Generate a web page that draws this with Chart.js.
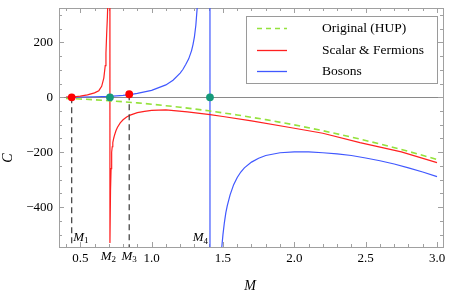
<!DOCTYPE html>
<html><head><meta charset="utf-8">
<script src="https://cdn.jsdelivr.net/npm/chart.js@4/dist/chart.umd.min.js"></script>
<style>html,body{margin:0;padding:0;background:#fff;overflow:hidden}</style>
</head><body>
<canvas id="c" width="450" height="293"></canvas>
<script>
// ---------- data ----------
const seriesNames = ['Original (HUP)', 'Scalar & Fermions', 'Bosons'];

const greenM = [0.40,0.50,0.60,0.70,0.80,0.90,1.00,1.20,1.40,1.60,1.80,2.00,2.20,2.40,2.60,2.80,3.00];
const greenC = [-4.0,-6.3,-9.0,-12.3,-16.1,-20.4,-25.1,-36.2,-49.3,-64.3,-81.4,-100.5,-121.6,-144.8,-169.9,-197.0,-226.2];

const redM = [0.40,0.44,0.50,0.55,0.60,0.63,0.65,0.665,0.675,0.68,0.685,0.69,0.695,0.700,0.707,0.708,0.712,0.716,0.720,0.724,0.728,0.734,0.740,0.750,0.760,0.780,0.800,0.825,0.850,0.900,0.950,1.000,1.100,1.250,1.410,1.500,1.700,1.970,2.200,2.460,2.750,3.000];
const redC = [1,1,4,9,16,24,40,70,115,160,230,290,380,600,1500,-530,-340,-260,-200,-180,-165,-150,-138,-122,-110,-93,-82,-72,-65,-56,-51,-48,-46,-53,-63,-70,-86,-110,-131,-165,-199,-238];

const blueM = [0.40,0.50,0.60,0.707,0.80,0.85,0.90,1.00,1.10,1.15,1.20,1.22,1.24,1.26,1.28,1.29,1.30,1.31,1.32,1.34,1.38,1.4085,1.4095,1.45,1.49,1.50,1.51,1.52,1.53,1.55,1.575,1.60,1.625,1.65,1.70,1.75,1.80,1.90,2.00,2.10,2.20,2.30,2.40,2.50,2.60,2.70,2.80,2.90,3.00];
const blueC = [0,1,2,3,7,10,14,25,45,62,88,102,120,140,170,192,220,262,330,450,800,3000,-3000,-1200,-555,-500,-456,-421,-395,-355,-318,-292,-272,-257,-236,-222,-212,-202,-199,-199,-202,-206,-212,-221,-231,-243,-257,-272,-289];

const redDotM = [0.44, 0.843];
const redDotC = [0, 11];
const tealDotM = [0.708, 1.409];
const tealDotC = [0, 0];

const markerNames = ['1', '2', '3', '4'];         // subscripts of M labels
const markerM = [0.44, 0.708, 0.843, 1.409];

const xTickValues = [0.5, 1.0, 1.5, 2.0, 2.5, 3.0];
const xTickLabels = ['0.5', '1.0', '1.5', '2.0', '2.5', '3.0'];
const yTickValues = [-400, -200, 0, 200];
const yTickLabels = ['\u2212400', '\u2212200', '0', '200'];

const X_MIN = 0.351, X_MAX = 3.042, Y_MIN = -545, Y_MAX = 325;

// ---------- helpers ----------
const SERIF = '"Liberation Serif","DejaVu Serif",serif';
const pts = (xs, ys) => xs.map((x, i) => ({x: x, y: ys[i]}));
const GREEN = '#94e23c', RED = '#ff2020', BLUE = '#4058ff', TEAL = '#159a7a';

function drawM(ctx, sub, x, y, align) {
  ctx.font = 'italic 13px ' + SERIF;
  const wM = ctx.measureText('M').width;
  ctx.font = '9px ' + SERIF;
  const wS = ctx.measureText(sub).width;
  let left = align === 'left' ? x : (align === 'right' ? x - wM - wS : x - (wM + wS) / 2);
  ctx.fillStyle = '#000';
  ctx.textAlign = 'left';
  ctx.textBaseline = 'alphabetic';
  ctx.font = 'italic 13px ' + SERIF;
  ctx.fillText('M', left, y);
  ctx.font = '9px ' + SERIF;
  ctx.fillText(sub, left + wM, y + 2.5);
}

const framePlugin = {
  id: 'frame',
  beforeDatasetsDraw(chart) {
    const {ctx, chartArea: a, scales: {x, y}} = chart;
    ctx.save();
    ctx.strokeStyle = '#8a8a8a';
    ctx.lineWidth = 1;
    const y0 = Math.round(y.getPixelForValue(0)) + 0.5;
    ctx.beginPath(); ctx.moveTo(a.left, y0); ctx.lineTo(a.right, y0); ctx.stroke();
    ctx.strokeStyle = '#a0a0a0';
    ctx.strokeRect(Math.round(a.left) + 0.5, Math.round(a.top) + 0.5, Math.round(a.right - a.left), Math.round(a.bottom - a.top));
    ctx.beginPath();
    for (let k = 4; k <= 30; k++) {
      const v = k / 10;
      const px = Math.round(x.getPixelForValue(v)) + 0.5;
      const len = (k % 5 === 0) ? 5 : 3;
      ctx.moveTo(px, a.bottom); ctx.lineTo(px, a.bottom - len);
      ctx.moveTo(px, a.top); ctx.lineTo(px, a.top + len);
    }
    for (let v = -500; v <= 300; v += 50) {
      const py = Math.round(y.getPixelForValue(v)) + 0.5;
      const len = (v % 200 === 0) ? 5 : 3;
      ctx.moveTo(a.left, py); ctx.lineTo(a.left + len, py);
      ctx.moveTo(a.right, py); ctx.lineTo(a.right - len, py);
    }
    ctx.stroke();
    ctx.restore();
  },
  afterDraw(chart) {
    const {ctx, scales: {x}} = chart;
    ctx.save();
    drawM(ctx, markerNames[0], x.getPixelForValue(markerM[0]) + 1.5, 240.5, 'left');
    drawM(ctx, markerNames[1], x.getPixelForValue(markerM[1]) - 1.5, 259.5, 'center');
    drawM(ctx, markerNames[2], x.getPixelForValue(markerM[2]), 259.5, 'center');
    drawM(ctx, markerNames[3], x.getPixelForValue(markerM[3]) - 2, 241, 'right');
    ctx.fillStyle = '#000';
    ctx.font = 'italic 14px ' + SERIF;
    ctx.textAlign = 'center';
    ctx.textBaseline = 'middle';
    ctx.fillText('M', 250, 286);
    ctx.save();
    ctx.translate(8, 158);
    ctx.rotate(-Math.PI / 2);
    ctx.fillText('C', 0, 0);
    ctx.restore();
    const bx = 246.5, by = 16.5, bw = 191, bh = 67;
    ctx.fillStyle = '#fff';
    ctx.fillRect(bx, by, bw, bh);
    ctx.strokeStyle = '#9a9a9a';
    ctx.lineWidth = 1;
    ctx.strokeRect(bx, by, bw, bh);
    const cols = [GREEN, RED, BLUE];
    const rows = [28, 50, 71];
    for (let i = 0; i < 3; i++) {
      ctx.strokeStyle = cols[i];
      ctx.lineWidth = i === 0 ? 1.6 : 1.3;
      ctx.setLineDash(i === 0 ? [5, 4] : []);
      ctx.beginPath(); ctx.moveTo(257, rows[i] + 0.5); ctx.lineTo(287, rows[i] + 0.5); ctx.stroke();
      ctx.setLineDash([]);
      ctx.fillStyle = '#000';
      ctx.font = '13.5px ' + SERIF;
      ctx.textAlign = 'left';
      ctx.textBaseline = 'middle';
      ctx.fillText(seriesNames[i], 322, rows[i] + 0.5);
    }
    ctx.restore();
  }
};

const lineDs = (data, color, width, dash, order) => ({
  data: data, showLine: true, borderColor: color, backgroundColor: color,
  borderWidth: width, borderDash: dash, pointRadius: 0, pointHoverRadius: 0,
  order: order, clip: 0, tension: 0
});

new Chart(document.getElementById('c').getContext('2d'), {
  type: 'scatter',
  data: {
    datasets: [
      {data: pts(redDotM, redDotC), backgroundColor: '#ff0000', borderWidth: 0, pointRadius: 3.9, order: 0},
      {data: pts(tealDotM, tealDotC), backgroundColor: TEAL, borderWidth: 0, pointRadius: 3.9, order: 0},
      lineDs(pts(blueM, blueC), BLUE, 1.2, [], 3),
      lineDs(pts(redM, redC), RED, 1.2, [], 2),
      lineDs(pts(greenM, greenC), GREEN, 1.6, [6, 4], 1),
      lineDs(pts([redDotM[0], redDotM[0]], [redDotC[0], Y_MIN]), '#3a3a3a', 1.2, [6, 4], 1),
      lineDs(pts([redDotM[1], redDotM[1]], [redDotC[1], Y_MIN]), '#3a3a3a', 1.2, [6, 4], 1)
    ]
  },
  options: {
    responsive: false, devicePixelRatio: 1, animation: false, events: [],
    layout: {padding: {top: 8, right: 7, left: 0, bottom: 0}},
    plugins: {legend: {display: false}, tooltip: {enabled: false}},
    scales: {
      x: {
        type: 'linear', min: X_MIN, max: X_MAX, position: 'bottom',
        grid: {display: false, drawTicks: false}, border: {display: false},
        ticks: {color: '#000', font: {family: SERIF, size: 13}, padding: 4, maxRotation: 0, autoSkip: false,
                callback: (v) => xTickLabels[xTickValues.indexOf(v)]},
        afterBuildTicks: (s) => { s.ticks = xTickValues.map(v => ({value: v})); },
        afterFit: (s) => { s.height = 46; s.paddingLeft = 0; s.paddingRight = 0; }
      },
      y: {
        type: 'linear', min: Y_MIN, max: Y_MAX,
        grid: {display: false, drawTicks: false}, border: {display: false},
        ticks: {color: '#000', font: {family: SERIF, size: 13}, padding: 6, autoSkip: false,
                callback: (v) => yTickLabels[yTickValues.indexOf(v)]},
        afterBuildTicks: (s) => { s.ticks = yTickValues.map(v => ({value: v})); },
        afterFit: (s) => { s.width = 59; s.paddingTop = 0; s.paddingBottom = 0; }
      }
    }
  },
  plugins: [framePlugin]
});
</script>
</body></html>
